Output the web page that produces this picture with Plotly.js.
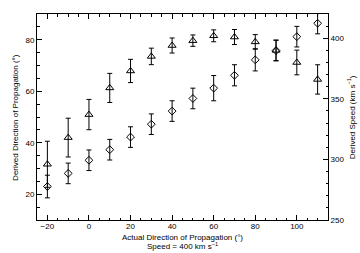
<!DOCTYPE html>
<html>
<head>
<meta charset="utf-8">
<script src="https://cdn.plot.ly/plotly-3.0.1.min.js"></script>
<style>html,body{margin:0;padding:0;background:#fff;}#chart{width:360px;height:253px;}</style>
</head>
<body>
<div id="chart"></div>
<script>
var actualDir = [-20, -10, 0, 10, 20, 30, 40, 50, 60, 70, 80, 90, 100, 110];
var derivedDir = [23, 28.1, 33.2, 37.3, 42.2, 47.2, 52.3, 57.2, 61.2, 66.2, 72.2, 75.8, 81.2, 86.4];
var dirErr = [4.4, 4, 4, 4, 4, 4, 4, 4, 4.9, 4.1, 4.3, 4, 4, 4.1];
var derivedSpeed = [296, 318, 337, 359, 373, 385, 394, 398, 402, 401, 397, 390, 380, 366];
var speedErr = [19, 16, 12.5, 12, 9.6, 6.8, 6.2, 4.7, 4.9, 6.2, 6, 8.5, 10.2, 12.1];

var fnt = {family: 'Liberation Sans, Arial, sans-serif', size: 8, color: '#000'};

var traces = [
  {
    x: actualDir, y: derivedDir, type: 'scatter', mode: 'markers',
    marker: {symbol: 'diamond-open', size: 6, color: '#000', line: {width: 1, color: '#000'}},
    error_y: {type: 'data', array: dirErr, visible: true, thickness: 1, width: 2.5, color: '#000'},
    showlegend: false
  },
  {
    x: actualDir, y: derivedSpeed, type: 'scatter', mode: 'markers', yaxis: 'y2',
    marker: {symbol: 'triangle-up-open', size: 7, color: '#000', line: {width: 1, color: '#000'}},
    error_y: {type: 'data', array: speedErr, visible: true, thickness: 1, width: 2.5, color: '#000'},
    showlegend: false
  }
];

var layout = {
  width: 360, height: 253,
  margin: {l: 37, r: 32, t: 14, b: 33},
  paper_bgcolor: '#fff', plot_bgcolor: '#fff',
  font: fnt,
  showlegend: false,
  xaxis: {
    range: [-25, 115], tickvals: [-20, 0, 20, 40, 60, 80, 100],
    ticktext: ['\u221220', '0', '20', '40', '60', '80', '100'],
    ticks: 'inside', ticklen: 5, tickwidth: 1, tickcolor: '#000', ticklabelstandoff: -2,
    minor: {dtick: 5, tick0: 0, ticks: 'inside', ticklen: 2.5, tickwidth: 1, tickcolor: '#000', showgrid: false},
    showline: true, linecolor: '#000', linewidth: 1, mirror: 'ticks',
    showgrid: false, zeroline: false, tickfont: fnt
  },
  yaxis: {
    range: [10, 90], tickvals: [20, 40, 60, 80],
    ticks: 'inside', ticklen: 5, tickwidth: 1, tickcolor: '#000',
    minor: {dtick: 5, tick0: 0, ticks: 'inside', ticklen: 2.5, tickwidth: 1, tickcolor: '#000', showgrid: false},
    showline: true, linecolor: '#000', linewidth: 1,
    showgrid: false, zeroline: false, tickfont: fnt
  },
  yaxis2: {
    overlaying: 'y', side: 'right',
    range: [250, 420], tickvals: [250, 300, 350, 400],
    ticks: 'inside', ticklen: 5, tickwidth: 1, tickcolor: '#000',
    minor: {dtick: 10, tick0: 0, ticks: 'inside', ticklen: 2.5, tickwidth: 1, tickcolor: '#000', showgrid: false},
    showline: true, linecolor: '#000', linewidth: 1,
    showgrid: false, zeroline: false, tickfont: fnt
  },
  annotations: [
    {text: 'Actual Direction of Propagation (\u00b0)', xref: 'paper', yref: 'paper', x: 0.5, xanchor: 'center', y: -0.055, yanchor: 'top', showarrow: false, font: fnt},
    {text: 'Speed = 400 km s<sup>\u22121</sup>', xref: 'paper', yref: 'paper', x: 0.5, xanchor: 'center', y: -0.094, yanchor: 'top', showarrow: false, font: fnt},
    {text: 'Derived Direction of Propagation (\u00b0)', xref: 'paper', yref: 'paper', x: -0.076, xanchor: 'center', y: 0.5, yanchor: 'middle', textangle: -90, showarrow: false, font: fnt},
    {text: 'Derived Speed (km s<sup>\u22121</sup>)', xref: 'paper', yref: 'paper', x: 1.08, xanchor: 'center', y: 0.5, yanchor: 'middle', textangle: -90, showarrow: false, font: fnt}
  ]
};

Plotly.newPlot('chart', traces, layout, {staticPlot: true, displayModeBar: false});
</script>
</body>
</html>
